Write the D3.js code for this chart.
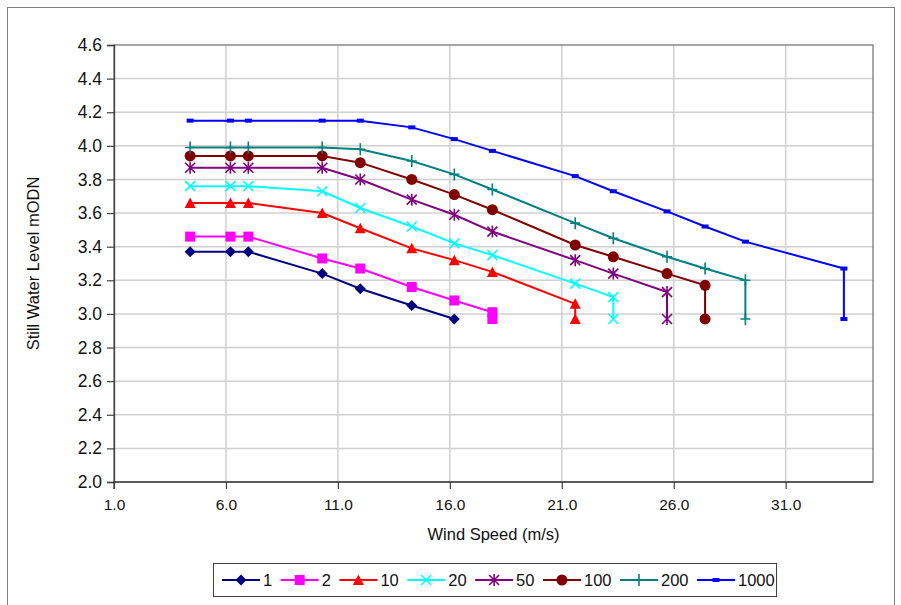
<!DOCTYPE html>
<html>
<head>
<meta charset="utf-8">
<script src="https://cdn.jsdelivr.net/npm/d3@7"></script>
<style>
  html, body { margin: 0; padding: 0; background: #fff; }
  svg { display: block; font-family: "Liberation Sans", Arial, sans-serif; }
</style>
</head>
<body>
<svg id="chart" width="901" height="605"></svg>
<script>
// Return period series: still water level (mODN) against wind speed (m/s)
const seriesNames = ["1", "2", "10", "20", "50", "100", "200", "1000"];
const seriesColors = ["#000080", "#ff00ff", "#ff0000", "#00ffff", "#800080", "#800000", "#008080", "#0000ff"];
const seriesMarkers = ["diamond", "square", "triangle", "x", "star", "circle", "plus", "dash"];

const wind1 = [4.4, 6.2, 7.0, 10.3, 12.0, 14.3, 16.2];
const level1 = [3.37, 3.37, 3.37, 3.24, 3.15, 3.05, 2.97];
const wind2 = [4.4, 6.2, 7.0, 10.3, 12.0, 14.3, 16.2, 17.9, 17.9];
const level2 = [3.46, 3.46, 3.46, 3.33, 3.27, 3.16, 3.08, 3.01, 2.97];
const wind10 = [4.4, 6.2, 7.0, 10.3, 12.0, 14.3, 16.2, 17.9, 21.6, 21.6];
const level10 = [3.66, 3.66, 3.66, 3.60, 3.51, 3.39, 3.32, 3.25, 3.06, 2.97];
const wind20 = [4.4, 6.2, 7.0, 10.3, 12.0, 14.3, 16.2, 17.9, 21.6, 23.3, 23.3];
const level20 = [3.76, 3.76, 3.76, 3.73, 3.63, 3.52, 3.42, 3.35, 3.18, 3.10, 2.97];
const wind50 = [4.4, 6.2, 7.0, 10.3, 12.0, 14.3, 16.2, 17.9, 21.6, 23.3, 25.7, 25.7];
const level50 = [3.87, 3.87, 3.87, 3.87, 3.80, 3.68, 3.59, 3.49, 3.32, 3.24, 3.13, 2.97];
const wind100 = [4.4, 6.2, 7.0, 10.3, 12.0, 14.3, 16.2, 17.9, 21.6, 23.3, 25.7, 27.4, 27.4];
const level100 = [3.94, 3.94, 3.94, 3.94, 3.90, 3.80, 3.71, 3.62, 3.41, 3.34, 3.24, 3.17, 2.97];
const wind200 = [4.4, 6.2, 7.0, 10.3, 12.0, 14.3, 16.2, 17.9, 21.6, 23.3, 25.7, 27.4, 29.2, 29.2];
const level200 = [3.99, 3.99, 3.99, 3.99, 3.98, 3.91, 3.83, 3.74, 3.54, 3.45, 3.34, 3.27, 3.20, 2.97];
const wind1000 = [4.4, 6.2, 7.0, 10.3, 12.0, 14.3, 16.2, 17.9, 21.6, 23.3, 25.7, 27.4, 29.2, 33.6, 33.6];
const level1000 = [4.15, 4.15, 4.15, 4.15, 4.15, 4.11, 4.04, 3.97, 3.82, 3.73, 3.61, 3.52, 3.43, 3.27, 2.97];

const xTicks = [1, 6, 11, 16, 21, 26, 31];
const yTicks = [2.0, 2.2, 2.4, 2.6, 2.8, 3.0, 3.2, 3.4, 3.6, 3.8, 4.0, 4.2, 4.4, 4.6];

const winds = [wind1, wind2, wind10, wind20, wind50, wind100, wind200, wind1000];
const levels = [level1, level2, level10, level20, level50, level100, level200, level1000];
const series = seriesNames.map((name, i) => ({
  name, color: seriesColors[i], marker: seriesMarkers[i],
  points: winds[i].map((w, j) => ({ x: w, y: levels[i][j] }))
}));

const svg = d3.select("#chart");
const plot = { left: 114, top: 45, right: 873, bottom: 482 };

const x = d3.scaleLinear().domain([1, 34.9]).range([plot.left, plot.right]);
const y = d3.scaleLinear().domain([2.0, 4.6]).range([plot.bottom, plot.top]);

// Outer chart frame
svg.append("rect")
  .attr("x", 7.5).attr("y", 7.5).attr("width", 887).attr("height", 605)
  .attr("fill", "#fff").attr("stroke", "#7f7f7f").attr("stroke-width", 1);

// Gridlines
const grid = svg.append("g");
grid.selectAll("line.h").data(yTicks.slice(1, -1)).join("line")
  .attr("x1", plot.left).attr("x2", plot.right)
  .attr("y1", d => y(d)).attr("y2", d => y(d))
  .attr("stroke", "#d0d0d0").attr("stroke-width", 1.5);
grid.selectAll("line.v").data(xTicks.slice(1)).join("line")
  .attr("y1", plot.top).attr("y2", plot.bottom)
  .attr("x1", d => x(d)).attr("x2", d => x(d))
  .attr("stroke", "#d0d0d0").attr("stroke-width", 1.5);

// Plot area border
svg.append("rect")
  .attr("x", plot.left).attr("y", plot.top)
  .attr("width", plot.right - plot.left).attr("height", plot.bottom - plot.top)
  .attr("fill", "none").attr("stroke", "#6e6e6e").attr("stroke-width", 1.2);

// Axes
const yAxis = svg.append("g")
  .attr("transform", `translate(${plot.left},0)`)
  .call(d3.axisLeft(y).tickValues(yTicks).tickFormat(d3.format(".1f")).tickSize(7).tickPadding(5));
const xAxis = svg.append("g")
  .attr("transform", `translate(0,${plot.bottom})`)
  .call(d3.axisBottom(x).tickValues(xTicks).tickFormat(d3.format(".1f")).tickSize(7).tickPadding(6));
[yAxis, xAxis].forEach(a => {
  a.select(".domain").attr("stroke", "#404040").attr("stroke-width", 1.3);
  a.selectAll(".tick line").attr("stroke", "#404040").attr("stroke-width", 1.2);
  a.selectAll(".tick text").attr("fill", "#111").style("font-family", "Liberation Sans, Arial, sans-serif");
});
yAxis.selectAll(".tick text").attr("font-size", 17.5);
xAxis.selectAll(".tick text").attr("font-size", 15.5).attr("dy", "0.95em");
// Keep the bottom axis line within the plot span
xAxis.select(".domain").attr("d", `M${plot.left},7V0H${plot.right}`);

// Axis titles
svg.append("text")
  .attr("x", (plot.left + plot.right) / 2).attr("y", 540)
  .attr("text-anchor", "middle").attr("font-size", 16.5).attr("fill", "#111")
  .text("Wind Speed (m/s)");
svg.append("text")
  .attr("transform", `translate(39,${(plot.top + plot.bottom) / 2}) rotate(-90)`)
  .attr("text-anchor", "middle").attr("font-size", 16.5).attr("fill", "#111")
  .text("Still Water Level mODN");

// Marker drawing
function drawMarker(g, type, color) {
  switch (type) {
    case "diamond":
      g.append("path").attr("d", "M0,-5.5L5.5,0L0,5.5L-5.5,0Z").attr("fill", color);
      break;
    case "square":
      g.append("rect").attr("x", -5).attr("y", -5).attr("width", 10).attr("height", 10).attr("fill", color);
      break;
    case "triangle":
      g.append("path").attr("d", "M0,-5.5L5.5,5L-5.5,5Z").attr("fill", color);
      break;
    case "x":
      g.append("path").attr("d", "M-5,-5L5,5M5,-5L-5,5").attr("stroke", color).attr("stroke-width", 1.6).attr("fill", "none");
      break;
    case "star":
      g.append("path").attr("d", "M-5,-5L5,5M5,-5L-5,5M0,-6L0,6").attr("stroke", color).attr("stroke-width", 1.6).attr("fill", "none");
      break;
    case "circle":
      g.append("circle").attr("r", 5.5).attr("fill", color);
      break;
    case "plus":
      g.append("path").attr("d", "M-5,0L5,0M0,-6L0,6").attr("stroke", color).attr("stroke-width", 1.6).attr("fill", "none");
      break;
    case "dash":
      g.append("rect").attr("x", -3.5).attr("y", -2).attr("width", 7).attr("height", 4).attr("fill", color);
      break;
  }
}

// Series lines and markers
const line = d3.line().x(d => x(d.x)).y(d => y(d.y));
const sg = svg.append("g");
series.forEach(s => {
  sg.append("path").datum(s.points)
    .attr("d", line).attr("fill", "none")
    .attr("stroke", s.color).attr("stroke-width", 2);
});
series.forEach(s => {
  s.points.forEach(p => {
    const g = sg.append("g").attr("transform", `translate(${x(p.x)},${y(p.y)})`);
    drawMarker(g, s.marker, s.color);
  });
});

// Legend
const legend = svg.append("g");
legend.append("rect")
  .attr("x", 213.5).attr("y", 563.5).attr("width", 563).attr("height", 33)
  .attr("fill", "#fff").attr("stroke", "#404040").attr("stroke-width", 1);
let cx = 222;
const ly = 580;
series.forEach(s => {
  const item = legend.append("g");
  item.append("line").attr("x1", cx).attr("x2", cx + 38).attr("y1", ly).attr("y2", ly)
    .attr("stroke", s.color).attr("stroke-width", 2);
  drawMarker(item.append("g").attr("transform", `translate(${cx + 19},${ly})`), s.marker, s.color);
  const t = item.append("text").attr("x", cx + 41).attr("y", ly).attr("dy", "0.36em")
    .attr("font-size", 16.5).attr("fill", "#111").text(s.name);
  cx += 41 + t.node().getComputedTextLength() + 8.5;
});
</script>
</body>
</html>
